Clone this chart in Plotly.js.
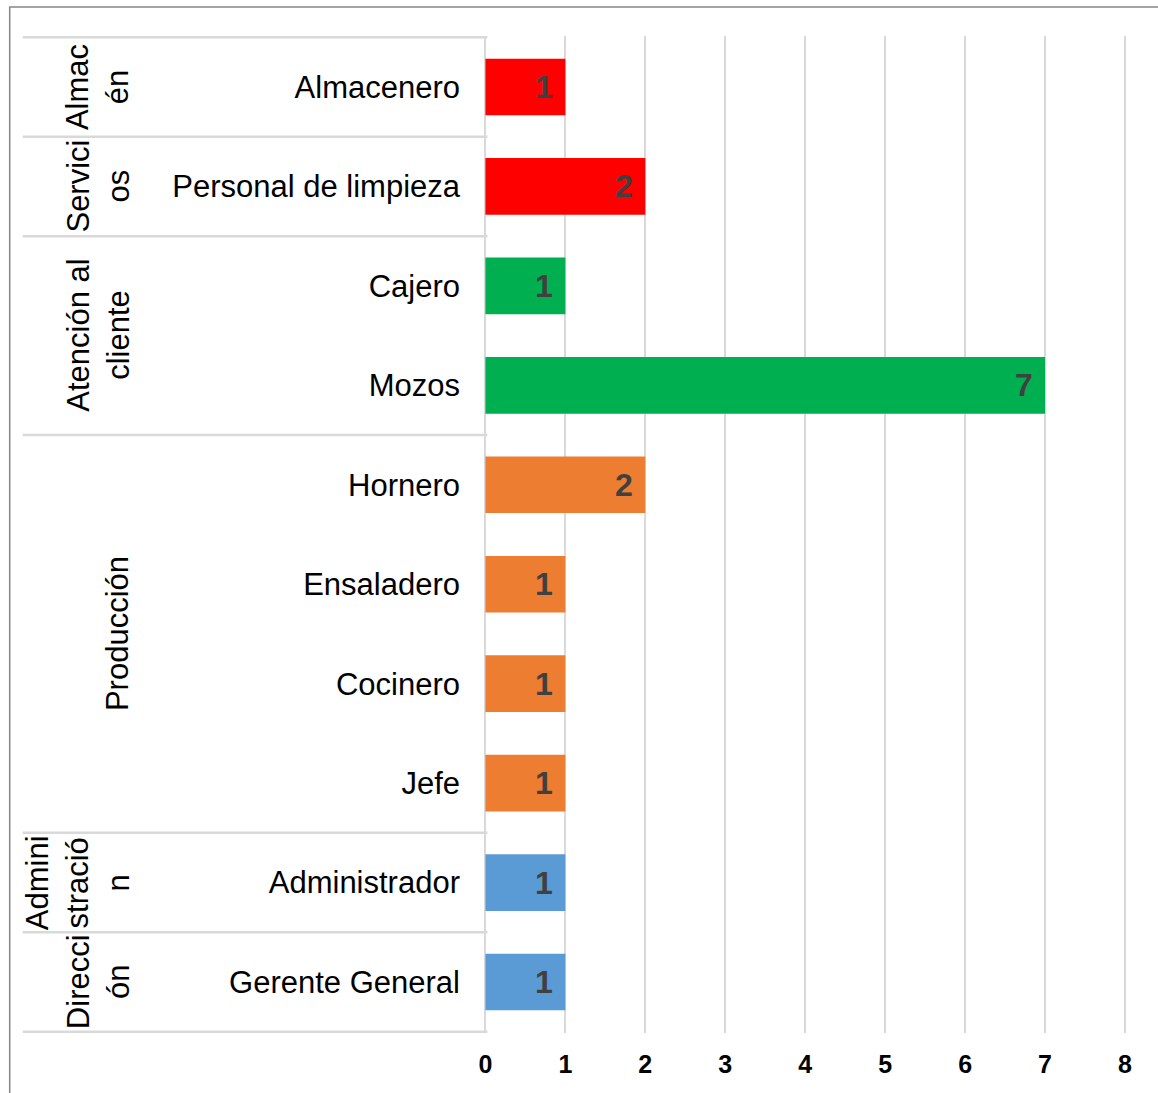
<!DOCTYPE html>
<html>
<head>
<meta charset="utf-8">
<script src="https://cdn.plot.ly/plotly-3.0.1.min.js"></script>
<style>html,body{margin:0;padding:0;background:#fff;}#chart{width:1158px;height:1093px;}</style>
</head>
<body>
<div id="chart"></div>
<script>
// Data
const categories = ["Almacenero", "Personal de limpieza", "Cajero", "Mozos", "Hornero", "Ensaladero", "Cocinero", "Jefe", "Administrador", "Gerente General"];
const groups = ["Almacén", "Servicios", "Atención al cliente", "Atención al cliente", "Producción", "Producción", "Producción", "Producción", "Administración", "Dirección"];
const values = [1, 2, 1, 7, 2, 1, 1, 1, 1, 1];
const groupLabels = {
  "Almacén": "Almac<br>én",
  "Servicios": "Servici<br>os",
  "Atención al cliente": "Atención al<br>cliente",
  "Producción": "Producción",
  "Administración": "Admini<br>stració<br>n",
  "Dirección": "Direcci<br>ón"
};
const xTicks = [0, 1, 2, 3, 4, 5, 6, 7, 8];

// Styles
const groupColors = {
  "Almacén": "#FF0000",
  "Servicios": "#FF0000",
  "Atención al cliente": "#00B050",
  "Producción": "#ED7D31",
  "Administración": "#5B9BD5",
  "Dirección": "#5B9BD5"
};
const FONT = "Liberation Sans, Arial, sans-serif";
const L = 482.6, PW = 646.4, T = 36, PH = 997;
const px2x = p => (p - L) / PW;
const py2y = p => 1 - (p - T) / PH;

const trace = {
  type: "bar",
  orientation: "h",
  y: categories,
  x: values,
  marker: { color: groups.map(g => groupColors[g]), line: { width: 0 } },
  hoverinfo: "skip"
};

const shapes = [];
const annotations = [];

// Value labels near the bar ends
categories.forEach((c, i) => annotations.push({
  xref: "x", yref: "y", x: values[i], y: c,
  xanchor: "center", yanchor: "middle", xshift: -21, yshift: 0,
  text: String(values[i]), showarrow: false,
  font: { family: FONT, size: 32, color: "#404040", weight: "bold" }
}));

// Group boundaries & labels
const boundaries = [-0.5];
let start = 0;
for (let i = 1; i <= groups.length; i++) {
  if (i === groups.length || groups[i] !== groups[i - 1]) {
    boundaries.push(i - 0.5);
    const g = groups[i - 1];
    annotations.push({
      xref: "paper", yref: "y",
      x: px2x(137), y: (start + i - 1) / 2,
      xanchor: "right", yanchor: "middle",
      text: groupLabels[g], textangle: -90, showarrow: false,
      font: { family: FONT, size: 31, color: "#000" }
    });
    start = i;
  }
}
boundaries.forEach(b => shapes.push({
  type: "line", xref: "paper", yref: "y",
  x0: px2x(22), x1: px2x(487), y0: b, y1: b,
  line: { color: "#D9D9D9", width: 2.5 }
}));
// outer border
shapes.push({
  type: "rect", xref: "paper", yref: "paper",
  x0: px2x(9), x1: px2x(1200), y0: py2y(1150), y1: py2y(7),
  line: { color: "#868686", width: 1.5 }, fillcolor: "rgba(0,0,0,0)", layer: "below"
});

const layout = {
  width: 1158, height: 1093,
  margin: { l: L, r: 1158 - L - PW, t: T, b: 1093 - T - PH, pad: 0 },
  paper_bgcolor: "#fff", plot_bgcolor: "#fff",
  showlegend: false,
  bargap: 0.43,
  font: { family: FONT, color: "#000" },
  xaxis: {
    range: [-0.03, 8.05],
    tickvals: xTicks,
    ticktext: xTicks.map(String),
    showgrid: true, gridcolor: "#D9D9D9", gridwidth: 2,
    zeroline: false, showline: false,
    ticks: "", ticklabelstandoff: 14,
    tickfont: { family: FONT, size: 25, color: "#000", weight: "bold" },
    automargin: false, fixedrange: true
  },
  yaxis: {
    type: "category",
    categoryorder: "array", categoryarray: categories,
    autorange: "reversed",
    showgrid: false, zeroline: false, showline: false,
    ticks: "", ticklabelstandoff: 22,
    tickfont: { family: FONT, size: 31, color: "#000" },
    automargin: false, fixedrange: true
  },
  shapes: shapes,
  annotations: annotations
};

Plotly.newPlot("chart", [trace], layout, { displayModeBar: false, staticPlot: true });
</script>
</body>
</html>
